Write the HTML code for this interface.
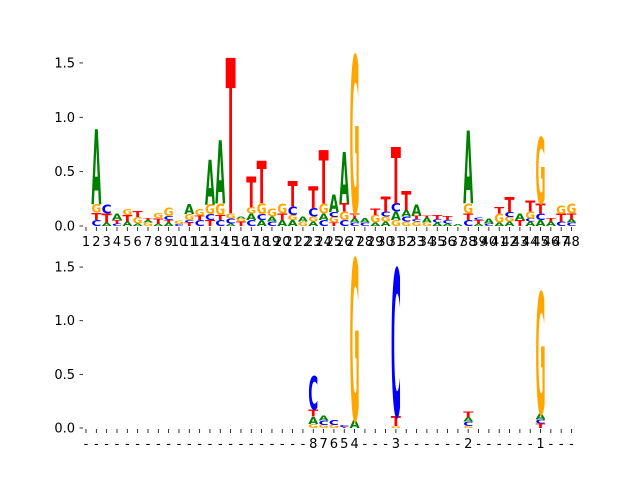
<!DOCTYPE html>
<html><head><meta charset="utf-8"><style>
body{margin:0;background:#fff}
svg{display:block}
text{font-family:"DejaVu Sans","Liberation Sans",sans-serif}
</style></head><body>
<svg id="chart" width="640" height="480" viewBox="0 0 640 480" xmlns="http://www.w3.org/2000/svg">
<g id="top"></g>
<g id="bot"></g>
</svg>
<script>
// top panel stacks: per position, bottom->top [letter, height]
const topStacks = [
 [],
 [["C",.055],["T",.067],["G",.08],["A",.69]],
 [["A",.03],["T",.085],["C",.083]],
 [["C",.025],["T",.03],["A",.06]],
 [["A",.04],["T",.06],["G",.055]],
 [["A",.025],["G",.06],["T",.055]],
 [["G",.03],["A",.025],["T",.015]],
 [["A",.025],["T",.05],["G",.045]],
 [["A",.03],["T",.025],["C",.035],["G",.075]],
 [["C",.02],["G",.03]],
 [["T",.03],["C",.025],["G",.055],["A",.09]],
 [["C",.055],["T",.04],["G",.058]],
 [["T",.055],["C",.055],["G",.09],["A",.41]],
 [["C",.055],["T",.046],["G",.107],["A",.58]],
 [["A",.025],["C",.046],["G",.046],["T",1.43]],
 [["T",.04],["G",.03],["A",.02]],
 [["C",.055],["A",.06],["G",.06],["T",.28]],
 [["A",.055],["C",.055],["G",.1],["T",.39]],
 [["C",.04],["A",.046],["G",.07]],
 [["A",.055],["T",.06],["G",.09]],
 [["A",.055],["G",.046],["C",.077],["T",.23]],
 [["G",.04],["A",.046]],
 [["A",.04],["G",.046],["C",.077],["T",.2]],
 [["C",.055],["A",.06],["G",.09],["T",.49]],
 [["T",.03],["G",.055],["C",.046],["A",.16]],
 [["C",.055],["G",.077],["T",.077],["A",.475]],
 [["C",.03],["A",.04],["T",.045],["G",1.45]],
 [["C",.03],["A",.04]],
 [["A",.03],["G",.07],["T",.06]],
 [["A",.04],["G",.046],["C",.046],["T",.14]],
 [["G",.055],["A",.077],["C",.077],["T",.52]],
 [["G",.04],["C",.046],["A",.06],["T",.17]],
 [["G",.04],["C",.025],["T",.03],["A",.1]],
 [["G",.03],["A",.05],["T",.015]],
 [["A",.03],["C",.03],["T",.04]],
 [["A",.025],["C",.03],["T",.035]],
 [["A",.015]],
 [["C",.055],["T",.06],["G",.09],["A",.67]],
 [["A",.025],["T",.03],["C",.025]],
 [["C",.025],["A",.045]],
 [["A",.03],["G",.085],["T",.06]],
 [["A",.04],["G",.045],["C",.045],["T",.14]],
 [["T",.055],["A",.06]],
 [["A",.04],["C",.03],["G",.065],["T",.1]],
 [["A",.055],["C",.06],["T",.09],["G",.61]],
 [["A",.04],["T",.03]],
 [["C",.04],["T",.07],["G",.075]],
 [["C",.03],["A",.03],["T",.055],["G",.09]]
];
const botStacks = {
 23:[["G",.037],["A",.068],["T",.068],["C",.31]],
 24:[["G",.03],["C",.04],["A",.045]],
 25:[["G",.03],["C",.05]],
 26:[["T",.01],["C",.015]],
 27:[["A",.075],["G",1.5]],
 31:[["G",.02],["T",.093],["C",1.37]],
 38:[["G",.02],["C",.04],["A",.04],["T",.056]],
 45:[["T",.04],["C",.037],["A",.056],["G",1.13]]
};
const topTickLabels = Array.from({length:48},(_,i)=>String(i+1));
const botTickLabels = Array.from({length:48},()=>"-");
botTickLabels[22]="8";botTickLabels[23]="7";botTickLabels[24]="6";botTickLabels[25]="5";
botTickLabels[26]="4";botTickLabels[30]="3";botTickLabels[37]="2";botTickLabels[44]="1";
const yTicks = [0,0.5,1.0,1.5];
const colors = {A:"#008000",C:"#0000ff",G:"#ffa500",T:"#ff0000"};

const NS="http://www.w3.org/2000/svg";
function xc(i){return 86+(i-1)*10.33;}
function mk(tag,parent,attrs){const e=document.createElementNS(NS,tag);for(const k in attrs)e.setAttribute(k,attrs[k]);parent.appendChild(e);return e;}

function panel(g,y0,ppu,getStack,labels,name){
  const ys=v=>y0-v*ppu;
  yTicks.forEach(v=>{
    const l=mk("line",g,{x1:79.5,x2:83,y1:ys(v),y2:ys(v),stroke:"#000","stroke-width":0.8});
    
    
    const t=mk("text",g,{x:75,y:ys(v)+4.5,"font-size":13,"text-anchor":"end",fill:"#000"});
    t.textContent=v.toFixed(1);
    
    
  });
  for(let i=1;i<=48;i++){
    const x=xc(i);
    const l=mk("line",g,{x1:x,x2:x,y1:y0+1,y2:y0+5,stroke:"#000","stroke-width":0.8});
    
    
    const t=mk("text",g,{x:x,y:y0+20,"font-size":13,"text-anchor":"middle",fill:"#000"});
    t.textContent=labels[i-1];
    
    
    const st=getStack(i)||[];
    let acc=0;
    st.forEach(([L,h])=>{
      const yb=ys(acc);acc+=h;
      const hp=h*ppu; if(hp<0.3) return;
      const w=10;
      const txt=mk("text",g,{x:0,y:0,"font-size":100,"font-weight":"bold",textLength:100,lengthAdjust:"spacingAndGlyphs",fill:colors[L],
        transform:`translate(${x-w/2},${yb}) scale(${w/100},${hp/72.9})`});
      txt.textContent=L;
      
      
    });
  }
}
panel(document.getElementById("top"),226,108.7,i=>topStacks[i-1],topTickLabels,"top");
panel(document.getElementById("bot"),428,107.3,i=>botStacks[i],botTickLabels,"bottom");
</script>
</body></html>
